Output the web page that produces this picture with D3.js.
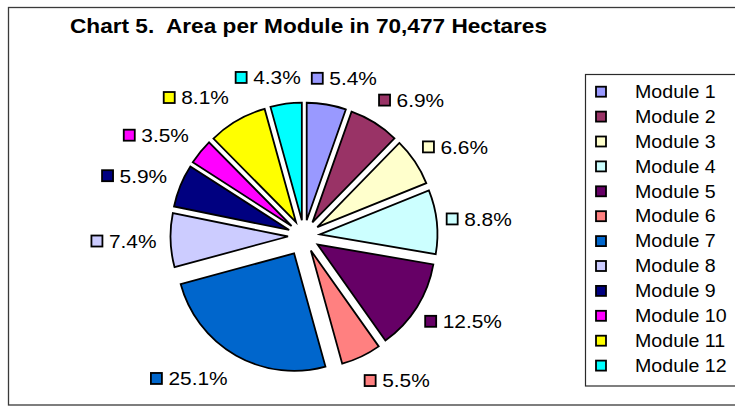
<!DOCTYPE html>
<html><head><meta charset="utf-8">
<script src="https://cdn.jsdelivr.net/npm/d3@7"></script>
<style>body{margin:0;background:#fff} svg{display:block} text{white-space:pre}</style>
</head><body>
<script>
// ---- data ----
const title = "Chart 5.  Area per Module in 70,477 Hectares";
const categories = ["Module 1","Module 2","Module 3","Module 4","Module 5","Module 6",
                    "Module 7","Module 8","Module 9","Module 10","Module 11","Module 12"];
const values = [5.4, 6.9, 6.6, 8.8, 12.5, 5.5, 25.1, 7.4, 5.9, 3.5, 8.1, 4.3];
const labels = ["5.4%","6.9%","6.6%","8.8%","12.5%","5.5%","25.1%","7.4%","5.9%","3.5%","8.1%","4.3%"];
const colors = ["#9999FF","#993366","#FFFFCC","#CCFFFF","#660066","#FF8080",
                "#0066CC","#CCCCFF","#000080","#FF00FF","#FFFF00","#00FFFF"];

// ---- layout ----
const W = 735, H = 415;
const FONT = "'Liberation Sans', Arial, Helvetica, sans-serif";
const svg = d3.select("body").append("svg").attr("width", W).attr("height", H);

// chart area border
svg.append("rect").attr("x", 8.5).attr("y", 7.5).attr("width", 800).attr("height", 397.5)
  .attr("fill", "#fff").attr("stroke", "#3a3a3a").attr("stroke-width", 1.3);

// title
svg.append("text").attr("x", 70).attr("y", 33.3)
  .attr("xml:space", "preserve")
  .attr("font-family", FONT).attr("font-size", 20.5).attr("font-weight", "bold")
  .attr("textLength", 477).attr("lengthAdjust", "spacingAndGlyphs")
  .text(title);

// pie
const cx = 304, cy = 236, R = 117.5;
const explode = categories.map(c => c === "Module 7" ? 20 : 16);
const arcs = d3.pie().sort(null).value(d => d)(values);
const arc = d3.arc().innerRadius(0).outerRadius(R);
const g = svg.append("g").attr("transform", `translate(${cx},${cy})`);
g.selectAll("path").data(arcs).join("path")
  .attr("transform", (d, i) => {
    const a = (d.startAngle + d.endAngle) / 2;
    return `translate(${Math.sin(a) * explode[i]},${-Math.cos(a) * explode[i]})`;
  })
  .attr("d", arc)
  .attr("fill", (d, i) => colors[i])
  .attr("stroke", "#000").attr("stroke-width", 1.8);

// data labels with legend keys
const labG = svg.append("g");
arcs.forEach((d, i) => {
  const a = (d.startAngle + d.endAngle) / 2, s = Math.sin(a), c = Math.cos(a);
  const rl = R + explode[i] + 11.5;
  const px = cx + rl * s;
  const gg = labG.append("g");
  const t = gg.append("text").attr("font-family", FONT).attr("font-size", 19)
    .attr("fill", "#000").text(labels[i]);
  const nat = t.node().getComputedTextLength();
  const tw = nat * 1.1;
  t.attr("textLength", tw).attr("lengthAdjust", "spacingAndGlyphs");
  const sq = 13, gap = 5.5;
  const w = sq + gap + tw;
  const sgn = s >= 0 ? 1 : -1;
  const bx = px + sgn * (w / 2) * Math.min(1, 3.2 * Math.abs(s)) - 2.5;
  const by = cy - (rl + 15) * c;
  const x0 = bx - w / 2;
  gg.append("rect").attr("x", x0 + 1).attr("y", by - 5.5).attr("width", 11).attr("height", 11)
    .attr("fill", colors[i]).attr("stroke", "#000").attr("stroke-width", 1.8);
  t.attr("x", x0 + sq + gap).attr("y", by + 6.8);
});

// legend
const legX = 585.5, legY = 74.5;
svg.append("rect").attr("x", legX).attr("y", legY).attr("width", 200).attr("height", 311.5)
  .attr("fill", "#fff").attr("stroke", "#2a2a2a").attr("stroke-width", 1.2);
const rowY = d3.scalePoint().domain(categories).range([91.7, 91.7 + 11 * 24.9]);
const leg = svg.append("g").selectAll("g").data(categories).join("g")
  .attr("transform", d => `translate(0,${rowY(d)})`);
leg.append("rect").attr("x", 596).attr("y", -5).attr("width", 10).attr("height", 10)
  .attr("fill", (d, i) => colors[i]).attr("stroke", "#000").attr("stroke-width", 1.8);
leg.append("text").attr("x", 635).attr("y", 6.2)
  .attr("font-family", FONT).attr("font-size", 17.5).attr("fill", "#000")
  .text(d => d)
  .each(function () {
    const n = this.getComputedTextLength();
    d3.select(this).attr("textLength", n * 1.12).attr("lengthAdjust", "spacingAndGlyphs");
  });
</script>
</body></html>
